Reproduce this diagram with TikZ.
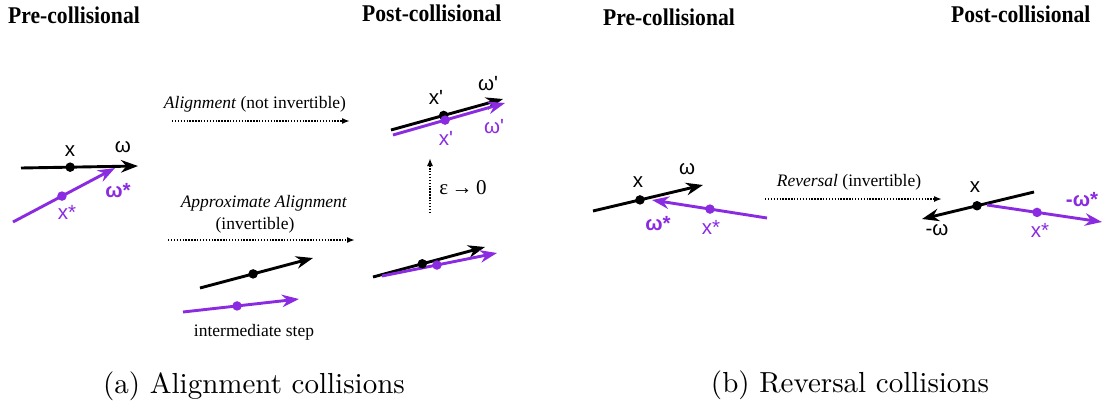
\documentclass[tikz,border=0pt]{standalone}
\usepackage{fontspec}
\newfontfamily\tms{Liberation Serif}
\newfontfamily\arl{Liberation Sans}
\newfontfamily\capfont{lmroman10-regular.otf}
\usetikzlibrary{arrows.meta,calc}
\definecolor{vio}{RGB}{138,43,226}
\newcommand{\narrow}[1]{\scalebox{0.9}[1]{#1}}
\tikzset{
  vec/.style={line width=2.9pt, -{Stealth[length=17pt,width=12.5pt,inset=5.5pt]}},
  blk/.style={vec, draw=black},
  pur/.style={vec, draw=vio},
  dotb/.style={circle, fill=black, inner sep=0pt, minimum size=9.5pt},
  dotp/.style={circle, fill=vio, inner sep=0pt, minimum size=9.5pt},
  lab/.style={font=\arl\fontsize{20.5}{22}\selectfont, inner sep=0pt},
  labp/.style={lab, text=vio},
  labpb/.style={lab, text=vio, font=\arl\bfseries\fontsize{20.5}{22}\selectfont},
  trans/.style={line width=1.7pt, dash pattern=on 1.4pt off 1.5pt, -{Latex[length=8pt,width=6pt]}},
  ttl/.style={font=\tms\bfseries\fontsize{24}{26}\selectfont, inner sep=0pt, anchor=base west},
  note/.style={font=\tms\fontsize{17.5}{20}\selectfont, inner sep=0pt},
  captext/.style={font=\capfont\fontsize{29}{34}\selectfont, inner sep=0pt, anchor=base}
}
\begin{document}
\begin{tikzpicture}[x=1pt,y=-1pt]
\useasboundingbox (0,0) rectangle (1110,407);
% titles
\node[ttl] (t1) at (8,23) {\narrow{Pre-collisional}};
\node[ttl] (t2) at (362,21) {\narrow{Post-collisional}};
\node[ttl] (t3) at (603,25) {\narrow{Pre-collisional}};
\node[ttl] (t4) at (951,22) {\narrow{Post-collisional}};
% captions
\node[captext] (capa) at (254,393) {(a) Alignment collisions};
\node[captext] (capb) at (850,392) {(b) Reversal collisions};

% ---- (a) pre-collisional
\coordinate (a1s) at (21,168); \coordinate (a1e) at (138,166);
\coordinate (a2s) at (13,222); \coordinate (a2e) at (115,168);
\draw[blk] (a1s) -- (a1e);
\draw[pur] (a2s) -- (a2e);
\node[dotb] (ad1) at ($(a1s)!0.42!(a1e)$) {};
\node[dotp] (ad2) at ($(a2s)!0.48!(a2e)$) {};
\node[lab] (alx) at (70,151) {x};
\node[lab] (alw) at (123,147) {ω};
\node[labp] (alxs) at (67,212) {x*};
\node[labpb] (alws) at (118,191) {ω*};

% ---- alignment transition
\node[note] (tal) at (255,104) {\textit{Alignment} (not invertible)};
\coordinate (ta1) at (172,121); \coordinate (ta2) at (350,121);
\draw[trans] (ta1) -- (ta2);

% ---- post alignment
\coordinate (b1s) at (391,130); \coordinate (b1e) at (503,99);
\coordinate (b2s) at (393,135); \coordinate (b2e) at (505,103);
\draw[blk] (b1s) -- (b1e);
\draw[pur] (b2s) -- (b2e);
\node[dotb] (bd1) at ($(b1s)!0.47!(b1e)$) {};
\node[dotp] (bd2) at ($(b2s)!0.465!(b2e)$) {};
\node[lab] (blx) at (436,97) {x'};
\node[lab] (blw) at (488,84) {ω'};
\node[labp] (blxs) at (446,138) {x'};
\node[labp] (blws) at (494,127) {ω'};

% ---- epsilon limit
\coordinate (e1) at (430,213); \coordinate (e2) at (430,158);
\draw[trans] (e1) -- (e2);
\node[font=\tms\fontsize{21}{24}\selectfont, inner sep=0pt] (eps) at (463,188) {ε\,→\,0};

% ---- approximate alignment
\node[note] (tap) at (264,203) {\textit{Approximate Alignment}};
\node[note] (tap2) at (255,225) {(invertible)};
\coordinate (tp1) at (168,240); \coordinate (tp2) at (355,240);
\draw[trans] (tp1) -- (tp2);

% intermediate
\coordinate (c1s) at (200,288); \coordinate (c1e) at (313,258);
\coordinate (c2s) at (183,312); \coordinate (c2e) at (299,299);
\draw[blk] (c1s) -- (c1e);
\draw[pur] (c2s) -- (c2e);
\node[dotb] (cd1) at ($(c1s)!0.47!(c1e)$) {};
\node[dotp] (cd2) at ($(c2s)!0.466!(c2e)$) {};
\node[note] (inter) at (254,332) {intermediate step};

% post approximate
\coordinate (d1s) at (373,277); \coordinate (d1e) at (485,247);
\coordinate (d2s) at (382,276); \coordinate (d2e) at (497,253);
\draw[blk] (d1s) -- (d1e);
\draw[pur] (d2s) -- (d2e);
\node[dotb] (dd1) at ($(d1s)!0.44!(d1e)$) {};
\node[dotp] (dd2) at ($(d2s)!0.478!(d2e)$) {};

% ---- (b) pre-collisional
\coordinate (r1s) at (593,211); \coordinate (r1e) at (703,185);
\coordinate (r2s) at (767,218); \coordinate (r2e) at (652,200);
\draw[blk] (r1s) -- (r1e);
\draw[pur] (r2s) -- (r2e);
\node[dotb] (rd1) at ($(r1s)!0.427!(r1e)$) {};
\node[dotp] (rd2) at ($(r2s)!0.496!(r2e)$) {};
\node[lab] (rlx) at (638,182) {x};
\node[lab] (rlw) at (687,169) {ω};
\node[labpb] (rlws) at (658,224) {ω*};
\node[labp] (rlxs) at (711,227) {x*};

% reversal transition
\node[note] (trv) at (849,182) {\textit{Reversal} (invertible)};
\coordinate (tr1) at (765,199); \coordinate (tr2) at (942,199);
\draw[trans] (tr1) -- (tr2);

% ---- (b) post-collisional
\coordinate (s1s) at (1034,192); \coordinate (s1e) at (922,219);
\coordinate (s2s) at (987,205); \coordinate (s2e) at (1102,222);
\draw[blk] (s1s) -- (s1e);
\draw[pur] (s2s) -- (s2e);
\node[dotb] (sd1) at ($(s1s)!0.509!(s1e)$) {};
\node[dotp] (sd2) at ($(s2s)!0.435!(s2e)$) {};
\node[lab] (slx) at (975,187) {x};
\node[lab] (slw) at (937,230) {-ω};
\node[labpb] (slws) at (1082,200) {-ω*};
\node[labp] (slxs) at (1040,230) {x*};
\end{tikzpicture}
\end{document}
